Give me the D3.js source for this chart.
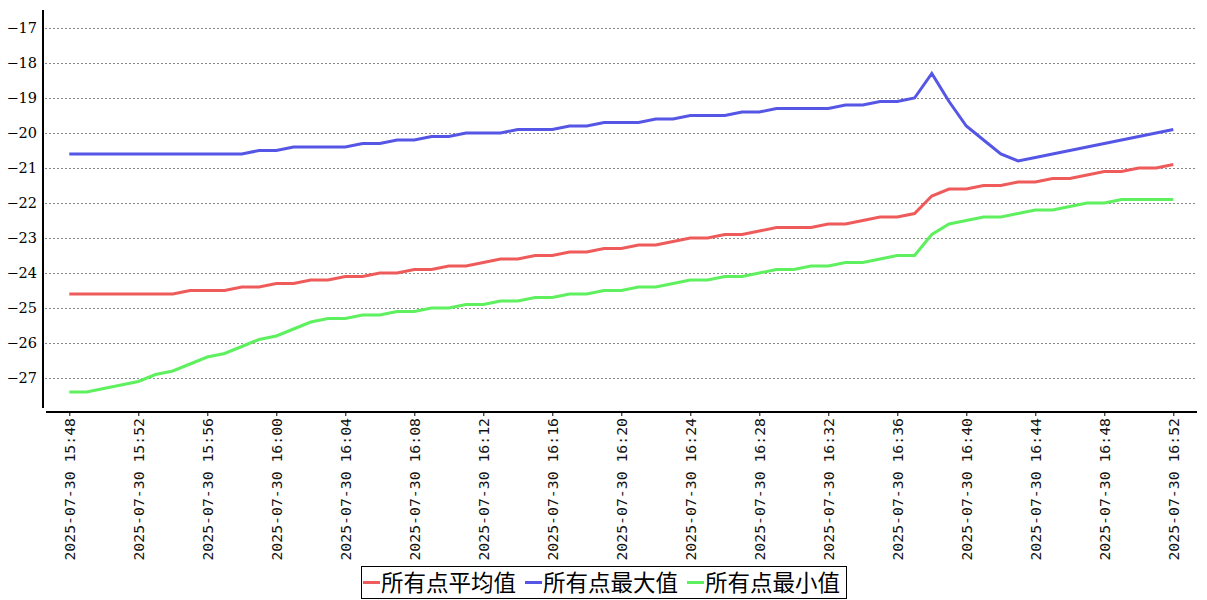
<!DOCTYPE html>
<html>
<head>
<meta charset="utf-8">
<script src="https://cdnjs.cloudflare.com/ajax/libs/d3/7.8.5/d3.min.js"></script>
<style>
body { margin: 0; background: #fff; }
svg { display: block; }
</style>
</head>
<body>
<div id="chart"></div>
<script>
var dateStr = "2025-07-30";

var times = ["15:48","15:49","15:50","15:51","15:52","15:53","15:54","15:55","15:56","15:57",
  "15:58","15:59","16:00","16:01","16:02","16:03","16:04","16:05","16:06","16:07",
  "16:08","16:09","16:10","16:11","16:12","16:13","16:14","16:15","16:16","16:17",
  "16:18","16:19","16:20","16:21","16:22","16:23","16:24","16:25","16:26","16:27",
  "16:28","16:29","16:30","16:31","16:32","16:33","16:34","16:35","16:36","16:37",
  "16:38","16:39","16:40","16:41","16:42","16:43","16:44","16:45","16:46","16:47",
  "16:48","16:49","16:50","16:51","16:52"];

var tickTimes = ["15:48","15:52","15:56","16:00","16:04","16:08","16:12","16:16","16:20",
  "16:24","16:28","16:32","16:36","16:40","16:44","16:48","16:52"];

var yTicks = [-17,-18,-19,-20,-21,-22,-23,-24,-25,-26,-27];

// 所有点平均值
var avgVals = [-24.6,-24.6,-24.6,-24.6,-24.6,-24.6,-24.6,-24.5,-24.5,-24.5,
  -24.4,-24.4,-24.3,-24.3,-24.2,-24.2,-24.1,-24.1,-24.0,-24.0,
  -23.9,-23.9,-23.8,-23.8,-23.7,-23.6,-23.6,-23.5,-23.5,-23.4,
  -23.4,-23.3,-23.3,-23.2,-23.2,-23.1,-23.0,-23.0,-22.9,-22.9,
  -22.8,-22.7,-22.7,-22.7,-22.6,-22.6,-22.5,-22.4,-22.4,-22.3,
  -21.8,-21.6,-21.6,-21.5,-21.5,-21.4,-21.4,-21.3,-21.3,-21.2,
  -21.1,-21.1,-21.0,-21.0,-20.9];

// 所有点最大值
var maxVals = [-20.6,-20.6,-20.6,-20.6,-20.6,-20.6,-20.6,-20.6,-20.6,-20.6,
  -20.6,-20.5,-20.5,-20.4,-20.4,-20.4,-20.4,-20.3,-20.3,-20.2,
  -20.2,-20.1,-20.1,-20.0,-20.0,-20.0,-19.9,-19.9,-19.9,-19.8,
  -19.8,-19.7,-19.7,-19.7,-19.6,-19.6,-19.5,-19.5,-19.5,-19.4,
  -19.4,-19.3,-19.3,-19.3,-19.3,-19.2,-19.2,-19.1,-19.1,-19.0,
  -18.3,-19.1,-19.8,-20.2,-20.6,-20.8,-20.7,-20.6,-20.5,-20.4,
  -20.3,-20.2,-20.1,-20.0,-19.9];

// 所有点最小值
var minVals = [-27.4,-27.4,-27.3,-27.2,-27.1,-26.9,-26.8,-26.6,-26.4,-26.3,
  -26.1,-25.9,-25.8,-25.6,-25.4,-25.3,-25.3,-25.2,-25.2,-25.1,
  -25.1,-25.0,-25.0,-24.9,-24.9,-24.8,-24.8,-24.7,-24.7,-24.6,
  -24.6,-24.5,-24.5,-24.4,-24.4,-24.3,-24.2,-24.2,-24.1,-24.1,
  -24.0,-23.9,-23.9,-23.8,-23.8,-23.7,-23.7,-23.6,-23.5,-23.5,
  -22.9,-22.6,-22.5,-22.4,-22.4,-22.3,-22.2,-22.2,-22.1,-22.0,
  -22.0,-21.9,-21.9,-21.9,-21.9];

var seriesNames = ["所有点平均值", "所有点最大值", "所有点最小值"];
var seriesColors = ["#ef5b5b", "#5656e6", "#5ef05e"];

var width = 1207, height = 600;

var svg = d3.select("#chart")
    .append("svg")
    .attr("width", width)
    .attr("height", height);

var xScale = d3.scalePoint()
    .domain(times)
    .range([69.3, 1173.3]);

var yScale = d3.scaleLinear()
    .domain([-17, -27])
    .range([28, 378]);

// grid lines
svg.append("g")
    .selectAll("line")
    .data(yTicks)
    .enter()
    .append("line")
    .attr("x1", 45)
    .attr("x2", 1195)
    .attr("y1", function(d) { return Math.round(yScale(d)) + 0.5; })
    .attr("y2", function(d) { return Math.round(yScale(d)) + 0.5; })
    .attr("stroke", "#888")
    .attr("stroke-width", 1)
    .attr("stroke-dasharray", "2,2");

// y axis
var yAxis = d3.axisLeft(yScale)
    .tickValues(yTicks)
    .tickSize(0)
    .tickPadding(0)
    .tickFormat(d3.format("d"));

svg.append("g")
    .attr("transform", "translate(37,0)")
    .call(yAxis)
    .call(function(g) { g.select(".domain").remove(); })
    .selectAll("text")
    .attr("font-family", "'DejaVu Serif', serif")
    .attr("font-size", 14.5)
    .attr("fill", "#000");

svg.append("line")
    .attr("x1", 43).attr("x2", 43)
    .attr("y1", yScale(-16.486)).attr("y2", yScale(-27.857))
    .attr("stroke", "#000")
    .attr("stroke-width", 2);

// x axis
var xAxis = d3.axisBottom(xScale)
    .tickValues(tickTimes)
    .tickSize(4)
    .tickFormat(function(d) { return dateStr + " " + d; });

var xg = svg.append("g")
    .attr("transform", "translate(0,412)")
    .call(xAxis);
xg.select(".domain").remove();
xg.selectAll(".tick line").attr("stroke", "#000");
xg.selectAll("text")
    .attr("font-family", "'DejaVu Sans Mono', monospace")
    .attr("font-size", 14.8)
    .attr("fill", "#111")
    .attr("text-anchor", "end")
    .attr("transform", "rotate(-90)")
    .attr("x", -6)
    .attr("y", 0)
    .attr("dy", "0.35em");

svg.append("line")
    .attr("x1", 46).attr("x2", 1197)
    .attr("y1", 412).attr("y2", 412)
    .attr("stroke", "#000")
    .attr("stroke-width", 2);

// lines
var allSeries = [avgVals, maxVals, minVals];
var line = d3.line()
    .x(function(d, i) { return xScale(times[i]); })
    .y(function(d) { return yScale(d); });

allSeries.forEach(function(vals, k) {
    svg.append("path")
        .datum(vals)
        .attr("fill", "none")
        .attr("stroke", seriesColors[k])
        .attr("stroke-width", 3)
        .attr("stroke-linejoin", "miter")
        .attr("d", line);
});

// legend
var legend = svg.append("g");
legend.append("rect")
    .attr("x", 361.5)
    .attr("y", 566.5)
    .attr("width", 485)
    .attr("height", 32)
    .attr("fill", "#fff")
    .attr("stroke", "#000")
    .attr("stroke-width", 1);

var itemX = [363, 525, 687];
seriesNames.forEach(function(name, k) {
    legend.append("line")
        .attr("x1", itemX[k])
        .attr("x2", itemX[k] + 17)
        .attr("y1", 582.5)
        .attr("y2", 582.5)
        .attr("stroke", seriesColors[k])
        .attr("stroke-width", 3);
    legend.append("text")
        .attr("x", itemX[k] + 18)
        .attr("y", 582.5)
        .attr("dy", "0.36em")
        .attr("font-family", "'Noto Sans CJK SC', sans-serif")
        .attr("font-size", 22.5)
        .attr("fill", "#000")
        .text(name);
});
</script>
</body>
</html>
